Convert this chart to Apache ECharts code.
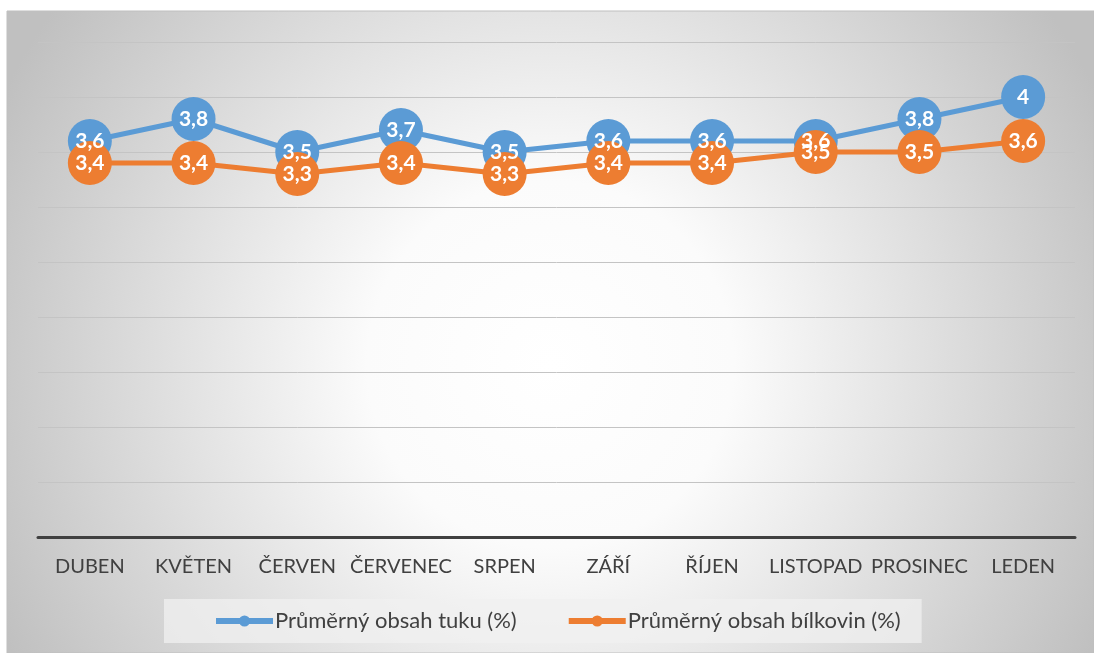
<!DOCTYPE html>
<html>
<head>
<meta charset="utf-8">
<script src="https://cdn.jsdelivr.net/npm/echarts@6/dist/echarts.min.js"></script>
<style>
  html, body { margin: 0; padding: 0; background: #fff; }
  #chart { width: 1094px; height: 653px; }
</style>
</head>
<body>
<div id="chart"></div>
<script>
// data
const months = ["DUBEN", "KVĚTEN", "ČERVEN", "ČERVENEC", "SRPEN", "ZÁŘÍ", "ŘÍJEN", "LISTOPAD", "PROSINEC", "LEDEN"];
const tuk = [3.6, 3.8, 3.5, 3.7, 3.5, 3.6, 3.6, 3.6, 3.8, 4];
const bilkoviny = [3.4, 3.4, 3.3, 3.4, 3.3, 3.4, 3.4, 3.5, 3.5, 3.6];
const seriesNames = ["Průměrný obsah tuku (%)", "Průměrný obsah bílkovin (%)"];

const font = "Lato, 'Open Sans', sans-serif";
const chart = echarts.init(document.getElementById("chart"));

// desetinná čárka
const fmt = p => String(p.value).replace(".", ",");

const makeSeries = (name, data, color) => ({
  name,
  type: "line",
  data,
  symbol: "circle",
  symbolSize: 44,
  lineStyle: { color, width: 5 },
  itemStyle: { color },
  label: {
    show: true,
    position: "inside",
    formatter: fmt,
    color: "#fff",
    fontFamily: font,
    fontWeight: "bold",
    fontSize: 21
  },
  labelLayout: { hideOverlap: false },
  emphasis: { disabled: true }
});

chart.setOption({
  animation: false,
  graphic: [
    {
      type: "rect",
      z: -10,
      silent: true,
      shape: { x: 7, y: 11, width: 1087, height: 642 },
      style: {
        fill: new echarts.graphic.RadialGradient(0.5, 0.55, 0.95, [
          { offset: 0, color: "#ffffff" },
          { offset: 0.3, color: "#fbfbfb" },
          { offset: 1, color: "#c0c0c0" }
        ]),
        stroke: "#bfbfbf",
        lineWidth: 1
      }
    }
  ],
  grid: { left: 38, right: 19, top: 42, bottom: 116 },
  legend: {
    left: 164,
    top: 599,
    padding: [11, 21, 11, 49],
    backgroundColor: "rgba(240,240,240,0.75)",
    itemWidth: 57,
    itemHeight: 14,
    itemGap: 49,
    lineStyle: { width: 6 },
    textStyle: { fontFamily: font, fontSize: 22, color: "#404040", padding: [0, 0, 0, -3] },
    data: seriesNames
  },
  xAxis: {
    type: "category",
    data: months,
    boundaryGap: true,
    axisLine: { lineStyle: { color: "#404040", width: 3 } },
    axisTick: { show: false },
    axisLabel: { fontFamily: font, fontSize: 20, color: "#404040", margin: 20, interval: 0 }
  },
  yAxis: {
    type: "value",
    min: 0,
    max: 4.5,
    interval: 0.5,
    axisLabel: { show: false },
    axisLine: { show: false },
    axisTick: { show: false },
    splitLine: { lineStyle: { color: "#c4c4c4", width: 1 } }
  },
  series: [
    makeSeries(seriesNames[0], tuk, "#5B9BD5"),
    makeSeries(seriesNames[1], bilkoviny, "#ED7D31")
  ]
});
</script>
</body>
</html>
